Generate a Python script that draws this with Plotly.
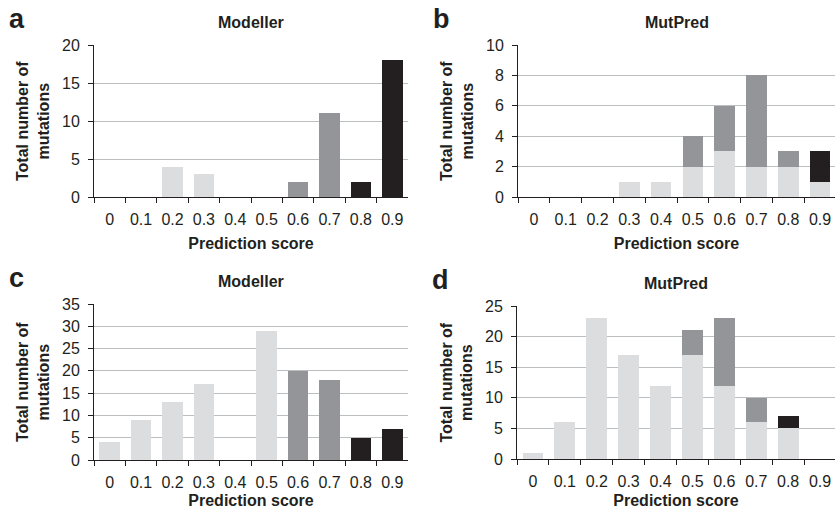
import plotly.graph_objects as go

W, H = 835, 509

categories = ["0", "0.1", "0.2", "0.3", "0.4", "0.5", "0.6", "0.7", "0.8", "0.9"]

# Panel a: Modeller
a_light = [0, 0, 4, 3, 0, 0, 0, 0, 0, 0]
a_mid   = [0, 0, 0, 0, 0, 0, 2, 11, 0, 0]
a_dark  = [0, 0, 0, 0, 0, 0, 0, 0, 2, 18]
# Panel b: MutPred
b_light = [0, 0, 0, 1, 1, 2, 3, 2, 2, 1]
b_mid   = [0, 0, 0, 0, 0, 2, 3, 6, 1, 0]
b_dark  = [0, 0, 0, 0, 0, 0, 0, 0, 0, 2]
# Panel c: Modeller
c_light = [4, 9, 13, 17, 0, 29, 0, 0, 0, 0]
c_mid   = [0, 0, 0, 0, 0, 0, 20, 18, 0, 0]
c_dark  = [0, 0, 0, 0, 0, 0, 0, 0, 5, 7]
# Panel d: MutPred
d_light = [1, 6, 23, 17, 12, 17, 12, 6, 5, 0]
d_mid   = [0, 0, 0, 0, 0, 4, 11, 4, 0, 0]
d_dark  = [0, 0, 0, 0, 0, 0, 0, 0, 2, 0]

panel_letters = ["a", "b", "c", "d"]
panel_titles = ["Modeller", "MutPred", "Modeller", "MutPred"]
y_max = [20, 10, 35, 25]
y_step = [5, 2, 5, 5]
x_title = "Prediction score"
y_title = "Total number of<br>mutations"

LIGHT, MID, DARK = "#dcdddf", "#939598", "#231f20"
GRID = "#bcbec0"
AX = "#231f20"
FONT = "Liberation Sans, Arial, Helvetica, sans-serif"

# plot areas in pixels: (x0, x1, y_top, y_bottom)
boxes = [(94, 408, 45, 197), (518, 836, 45, 197), (94, 408, 304, 460), (517, 836, 306, 459)]

data = [(a_light, a_mid, a_dark), (b_light, b_mid, b_dark),
        (c_light, c_mid, c_dark), (d_light, d_mid, d_dark)]


def px(x):
    return x / W


def py(y):
    return 1 - y / H


fig = go.Figure()
layout = dict(
    width=W, height=H, margin=dict(l=0, r=0, t=0, b=0, autoexpand=False),
    paper_bgcolor="white", plot_bgcolor="white",
    barmode="stack", bargap=0.35, showlegend=False,
    font=dict(family=FONT, color=AX, size=16),
)
annotations = []
for i, (series, box) in enumerate(zip(data, boxes)):
    n = "" if i == 0 else str(i + 1)
    xa, ya = "x" + n, "y" + n
    for vals, col in zip(series, (LIGHT, MID, DARK)):
        fig.add_trace(go.Bar(x=categories, y=vals, marker=dict(color=col, line=dict(width=0)),
                             xaxis=xa, yaxis=ya))
    x0, x1, yt, yb = box
    x1c = min(x1, W)
    # keep the category width of the full (uncropped) axis
    right = -0.5 + 10 * (x1c - x0) / (x1 - x0)
    layout["xaxis" + n] = dict(
        domain=[px(x0), px(x1c)], anchor=ya, type="category", automargin=False,
        tickson="boundaries", ticks="outside", ticklen=5, tickwidth=1, tickcolor=AX,
        showline=True, linecolor=AX, linewidth=1, showgrid=False,
        tickfont=dict(size=16, family=FONT, color=AX), ticklabelstandoff=8,
        title=dict(text="<b>%s</b>" % x_title, font=dict(size=16, family=FONT, color=AX), standoff=10),
        range=[-0.5, right], fixedrange=True,
    )
    layout["yaxis" + n] = dict(
        domain=[py(yb), py(yt)], anchor=xa, automargin=False,
        range=[0, y_max[i]], dtick=y_step[i], tick0=0,
        ticks="outside", ticklen=5, tickwidth=1, tickcolor=AX,
        showline=True, linecolor=AX, linewidth=1,
        showgrid=True, gridcolor=GRID, gridwidth=1, zeroline=False,
        tickfont=dict(size=16, family=FONT, color=AX), ticklabelstandoff=5,
        fixedrange=True,
    )
    xc = (x0 + x1c) / 2
    # subplot title
    annotations.append(dict(text="<b>%s</b>" % panel_titles[i], xref="paper", yref="paper",
                            x=px(xc), y=py(yt - 23),
                            xanchor="center", yanchor="middle", showarrow=False,
                            font=dict(size=16, family=FONT, color=AX)))
    # panel letter
    annotations.append(dict(text="<b>%s</b>" % panel_letters[i], xref="paper", yref="paper",
                            x=px(x0 - 87), y=py(yt - 26),
                            xanchor="left", yanchor="middle", showarrow=False,
                            font=dict(size=27, family=FONT, color=AX)))
    # y-axis title
    annotations.append(dict(text="<b>%s</b>" % y_title, xref="paper", yref="paper",
                            x=px(x0 - 61), y=py((yt + yb) / 2), textangle=-90,
                            xanchor="center", yanchor="middle", showarrow=False,
                            font=dict(size=16, family=FONT, color=AX)))

layout["annotations"] = annotations
fig.update_layout(**layout)
# remove the browser's default 8px page margin so the figure fills the window exactly
fig.write_html("out.html",
               config={"displayModeBar": False, "responsive": False},
               post_script="document.body.style.margin='0';"
                           "document.documentElement.style.overflow='hidden';")
